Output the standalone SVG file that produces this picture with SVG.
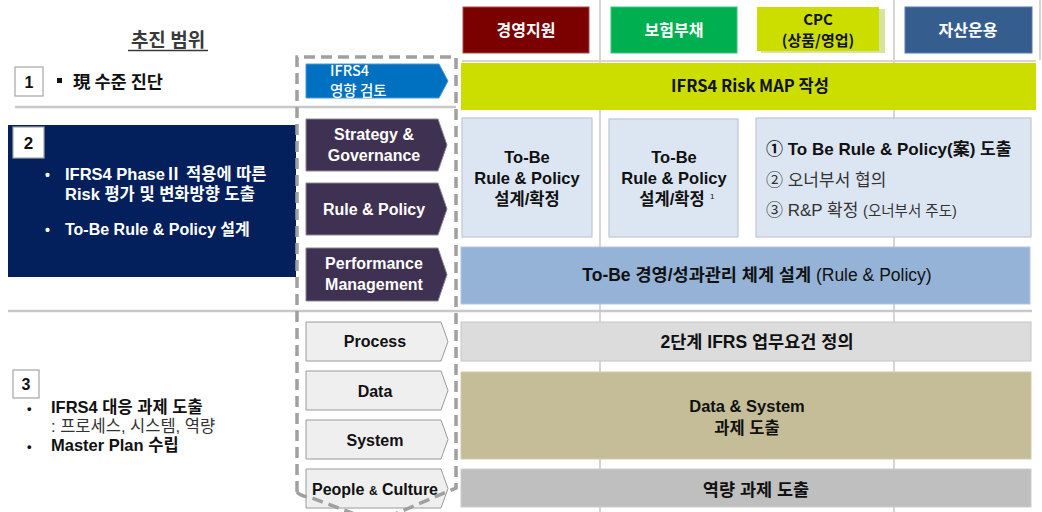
<svg xmlns="http://www.w3.org/2000/svg" width="1042" height="512" viewBox="0 0 1042 512">
  <style>
    .f { font-family: "Liberation Sans", "Noto Sans CJK KR", sans-serif; }
    .k { font-family: "Noto Sans CJK KR", "Liberation Sans", sans-serif; }
    .b { font-weight: bold; }
    .w { fill: #ffffff; }
    .d { fill: #111111; }
    .mid { text-anchor: middle; }
    .sep { stroke: #D6D6D6; stroke-width: 2; fill: none; }
    .hsep { stroke: #C8C8C8; stroke-width: 2.5; fill: none; }
    .purple { fill: #3F3151; stroke: #8C8599; stroke-width: 1; }
    .grey { fill: #EFEFEF; stroke: #9A9A9A; stroke-width: 1; }
    .num { fill: #ffffff; stroke: #A6A6A6; stroke-width: 1.2; }
    .tobe { fill: #DCE6F2; stroke: #BFC7D2; stroke-width: 1.2; }
    .frame { fill: none; stroke: #A0A0A0; stroke-width: 3.5; stroke-dasharray: 11 6; }
  </style>

  <rect width="1042" height="512" fill="#ffffff"/>

  <!-- column guides and row separators -->
  <g id="guides">
    <line class="sep" x1="600" y1="0" x2="600" y2="512"/>
    <line class="sep" x1="894" y1="0" x2="894" y2="512"/>
    <line class="sep" x1="1040" y1="0" x2="1040" y2="60"/>
    <line class="sep" x1="462" y1="61" x2="1036" y2="61"/>
    <line class="hsep" x1="15" y1="107" x2="456" y2="107"/>
    <line class="hsep" x1="8" y1="311" x2="1032" y2="311"/>
  </g>

  <!-- title -->
  <g id="title">
    <text class="k" x="168" y="47" font-size="19" font-weight="600" fill="#3A3A3A" text-anchor="middle">추진 범위</text>
    <line x1="128" y1="50.5" x2="208" y2="50.5" stroke="#3A3A3A" stroke-width="1.3"/>
  </g>

  <!-- column headers -->
  <g id="hdr-mgmt">
    <rect x="463" y="7" width="126" height="46" fill="#7B0000" stroke="#A84A4A" stroke-width="1"/>
    <text class="k b w mid" x="526" y="36" font-size="16">경영지원</text>
  </g>
  <g id="hdr-ins">
    <rect x="611" y="7" width="126" height="46" fill="#00B050" stroke="#3CC47A" stroke-width="1"/>
    <text class="k b w mid" x="674" y="36" font-size="16">보험부채</text>
  </g>
  <g id="hdr-cpc">
    <rect x="761" y="9" width="124" height="44" fill="#D7E39E"/>
    <rect x="757" y="7" width="122" height="44" fill="#CCDD00"/>
    <text class="k b d mid" x="818" y="24.5" font-size="15">CPC</text>
    <text class="k b d mid" x="818" y="46" font-size="15">(상품/영업)</text>
  </g>
  <g id="hdr-asset">
    <rect x="905" y="7" width="127" height="46" fill="#355E8F" stroke="#5A7DA8" stroke-width="1"/>
    <text class="k b w mid" x="968" y="36" font-size="16">자산운용</text>
  </g>

  <!-- row 1 -->
  <g id="row1">
    <rect class="num" x="15" y="67" width="28" height="29"/>
    <text class="f b d mid" x="29" y="88" font-size="16">1</text>
    <rect x="57" y="78" width="5" height="5" fill="#111111"/>
    <text class="k b d" x="73" y="88" font-size="17.5">現 수준 진단</text>
  </g>

  <!-- row 2 -->
  <g id="row2">
    <rect x="8" y="125" width="288" height="152" fill="#03205C"/>
    <rect class="num" x="13" y="127" width="31" height="31"/>
    <text class="f b d mid" x="28.5" y="149" font-size="17">2</text>
    <text class="f b w" x="45" y="180" font-size="14">•</text>
    <text class="f b w" x="65" y="180" font-size="16.5">IFRS4 PhaseⅡ 적용에 따른</text>
    <text class="f b w" x="65" y="200" font-size="16.5">Risk 평가 및 변화방향 도출</text>
    <text class="f b w" x="45" y="235" font-size="14">•</text>
    <text class="f b w" x="65" y="235" font-size="16">To-Be Rule &amp; Policy 설계</text>
  </g>

  <!-- row 3 -->
  <g id="row3">
    <rect class="num" x="13" y="370" width="26" height="28"/>
    <text class="f b d mid" x="26" y="390" font-size="16">3</text>
    <text class="f b d" x="27" y="413" font-size="13">•</text>
    <text class="f b d" x="51" y="413" font-size="16.5">IFRS4 대응 과제 도출</text>
    <text class="f" x="51" y="432" font-size="16.5" fill="#333333">: 프로세스, 시스템, 역량</text>
    <text class="f b d" x="27" y="451" font-size="13">•</text>
    <text class="f b d" x="51" y="451" font-size="16.5">Master Plan 수립</text>
  </g>

  <!-- scope chevrons -->
  <g id="chev-ifrs4">
    <path d="M306,64 H439 L448,81 L439,98 H306 Z" fill="#0070C0" stroke="#4C9AD6" stroke-width="1"/>
    <text class="k w" x="330" y="75.5" font-size="14.5" font-weight="500">IFRS4</text>
    <text class="k w" x="330" y="96" font-size="14.5" font-weight="500">영향 검토</text>
  </g>
  <g id="chev-strategy">
    <path class="purple" d="M306,119 H438 L447,145 L438,171 H306 Z"/>
    <text class="f b w mid" x="374" y="140" font-size="16">Strategy &amp;</text>
    <text class="f b w mid" x="374" y="161" font-size="16">Governance</text>
  </g>
  <g id="chev-rule">
    <path class="purple" d="M306,183 H438 L447,209 L438,235 H306 Z"/>
    <text class="f b w mid" x="374" y="215" font-size="16">Rule &amp; Policy</text>
  </g>
  <g id="chev-perf">
    <path class="purple" d="M306,248 H438 L447,274.5 L438,301 H306 Z"/>
    <text class="f b w mid" x="374" y="269" font-size="16">Performance</text>
    <text class="f b w mid" x="374" y="290" font-size="16">Management</text>
  </g>
  <g id="chev-process">
    <path class="grey" d="M306,322 H441 L448,341.5 L441,361 H306 Z"/>
    <text class="f b d mid" x="375" y="347" font-size="16">Process</text>
  </g>
  <g id="chev-data">
    <path class="grey" d="M306,371 H441 L448,390.5 L441,410 H306 Z"/>
    <text class="f b d mid" x="375" y="397" font-size="16">Data</text>
  </g>
  <g id="chev-system">
    <path class="grey" d="M306,420 H441 L448,439.5 L441,459 H306 Z"/>
    <text class="f b d mid" x="375" y="446" font-size="16">System</text>
  </g>
  <g id="chev-people">
    <path class="grey" d="M306,469 H441 L448,488.5 L441,508 H306 Z"/>
    <text class="f b d mid" x="375" y="495" font-size="16">People <tspan font-size="12">&amp;</tspan> Culture</text>
  </g>

  <!-- dashed scope frame -->
  <g id="connectors">
    <path class="frame" d="M297,492 V57 H456 V488 L376,522"/>
    <path class="frame" d="M297,492 Q300,496 312,498 L376,522"/>
  </g>

  <!-- activity bars -->
  <g id="bar-riskmap">
    <rect x="461" y="63" width="575" height="47" fill="#CCDD00"/>
    <text class="k b d mid" x="750" y="92" font-size="16.5">IFRS4 Risk MAP 작성</text>
  </g>
  <g id="box-tobe-1">
    <rect class="tobe" x="462" y="118" width="130" height="119"/>
    <text class="f b d mid" x="527" y="163" font-size="16.5">To-Be</text>
    <text class="f b d mid" x="527" y="184" font-size="16.5">Rule &amp; Policy</text>
    <text class="f b d mid" x="527" y="205" font-size="16.5">설계/확정</text>
  </g>
  <g id="box-tobe-2">
    <rect class="tobe" x="609" y="119" width="129" height="118"/>
    <text class="f b d mid" x="674" y="163" font-size="16.5">To-Be</text>
    <text class="f b d mid" x="674" y="184" font-size="16.5">Rule &amp; Policy</text>
    <text class="f b d mid" x="672" y="205" font-size="16.5">설계/확정</text>
    <text class="f d" x="710" y="199" font-size="8">1</text>
  </g>
  <g id="box-steps">
    <rect class="tobe" x="756" y="118" width="275" height="119"/>
    <text class="f b d" x="766" y="155" font-size="17">① To Be Rule &amp; Policy(案) 도출</text>
    <text class="f" x="766" y="186" font-size="17" fill="#333333">② 오너부서 협의</text>
    <text class="f" x="766" y="216" font-size="17" fill="#333333">③ R&amp;P 확정 <tspan font-size="14.5">(오너부서 주도)</tspan></text>
  </g>
  <g id="bar-perf">
    <rect x="461" y="247" width="569" height="57" fill="#95B3D7" stroke="#B3C7E0" stroke-width="1"/>
    <text class="f d mid" x="757" y="281" font-size="17.5"><tspan font-weight="bold">To-Be 경영/성과관리 체계 설계</tspan> (Rule &amp; Policy)</text>
  </g>
  <g id="bar-process">
    <rect x="461" y="322" width="570" height="39" fill="#DCDCDC" stroke="#C6C6C6" stroke-width="1"/>
    <text class="f b d mid" x="757" y="348" font-size="17.5">2단계 IFRS 업무요건 정의</text>
  </g>
  <g id="bar-datasys">
    <rect x="461" y="372" width="570" height="87" fill="#C4BD97" stroke="#D2CCAD" stroke-width="1"/>
    <text class="f b d mid" x="747" y="412" font-size="16.5">Data &amp; System</text>
    <text class="f b d mid" x="747" y="434" font-size="16.5">과제 도출</text>
  </g>
  <g id="bar-people">
    <rect x="461" y="469" width="570" height="38" fill="#BFBFBF" stroke="#CDCDCD" stroke-width="1"/>
    <text class="f b d mid" x="756" y="496" font-size="17.5">역량 과제 도출</text>
  </g>
</svg>
